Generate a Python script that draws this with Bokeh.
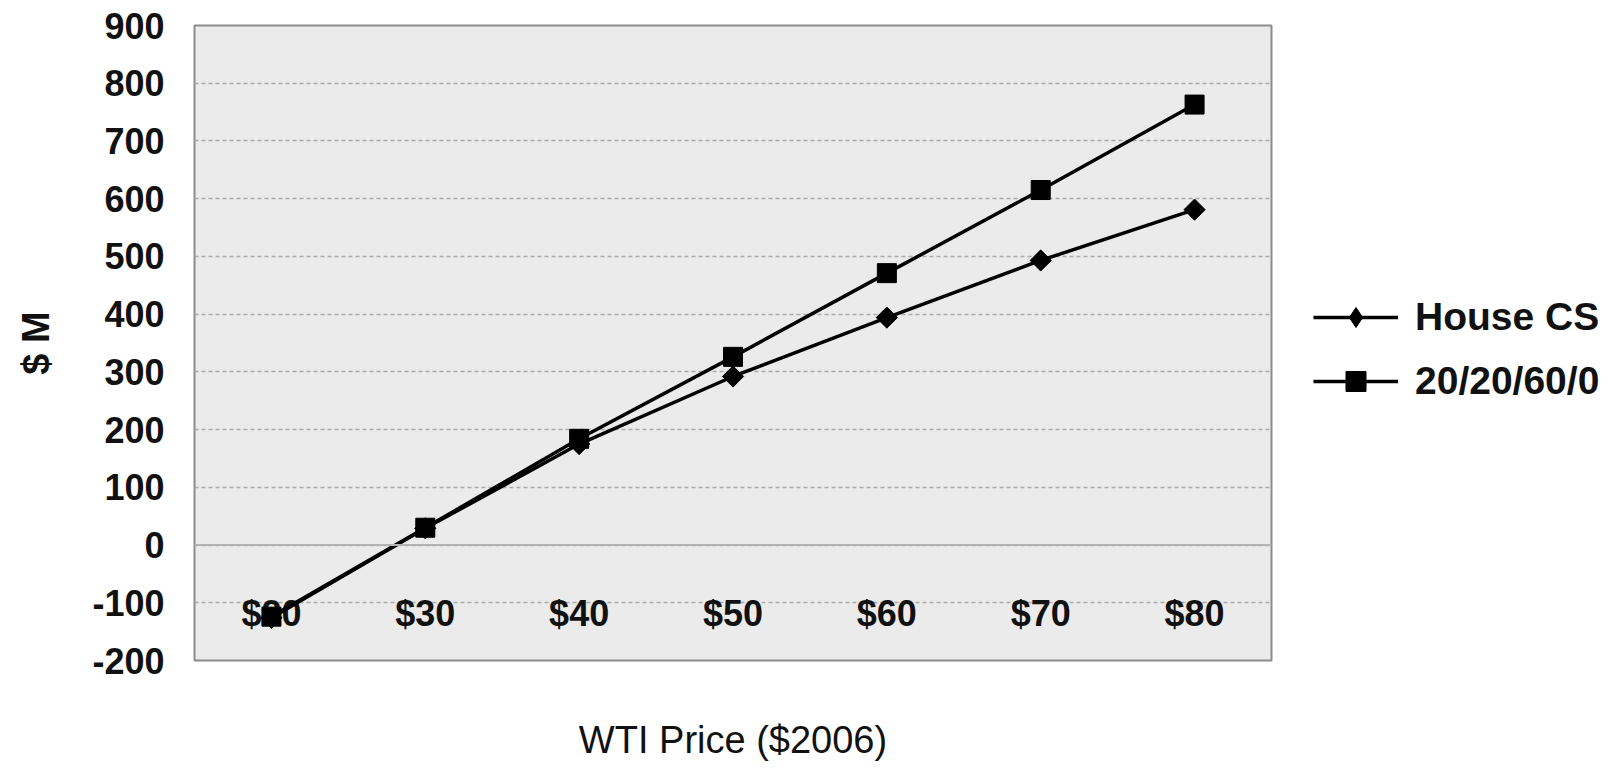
from math import pi

from bokeh.core.properties import value
from bokeh.embed import file_html
from bokeh.models import FactorRange, FixedTicker, Legend, LegendItem, Range1d, Span
from bokeh.plotting import figure
from bokeh.resources import INLINE

# WTI oil price scenarios ($2006) and the resulting value in $ millions
prices = ["$20", "$30", "$40", "$50", "$60", "$70", "$80"]
house_cs = [-126, 29, 175, 292, 394, 493, 581]
split_20_20_60_0 = [-124, 30, 184, 326, 471, 615, 763]
y_ticks = [-200, -100, 0, 100, 200, 300, 400, 500, 600, 700, 800, 900]

FONT = "Liberation Sans"

p = figure(
    frame_width=1077,
    frame_height=635,
    x_range=FactorRange(*prices),
    y_range=Range1d(-200, 900),
    output_backend="svg",
    toolbar_location=None,
    min_border_left=194,
    min_border_top=25,
    min_border_right=10,
    min_border_bottom=113,
    border_fill_color="#ffffff",
)
p.background_fill_color = "#ebebeb"
p.outline_line_color = "#8c8c8c"
p.outline_line_width = 2

# value axis (plain hyphen for negative numbers)
p.yaxis.ticker = FixedTicker(ticks=y_ticks)
p.yaxis.major_label_overrides = {t: str(t) for t in y_ticks}
p.yaxis.axis_line_color = None
p.yaxis.major_tick_line_color = None
p.yaxis.minor_tick_line_color = None
p.yaxis.major_tick_out = 0
p.yaxis.major_label_standoff = 30
p.yaxis.major_label_text_font = FONT
p.yaxis.major_label_text_font_size = "36px"
p.yaxis.major_label_text_font_style = "bold"
p.yaxis.major_label_text_color = "#111111"
p.yaxis.axis_label = "$ M"
p.yaxis.axis_label_text_font = FONT
p.yaxis.axis_label_text_font_size = "38px"
p.yaxis.axis_label_text_font_style = "bold"
p.yaxis.axis_label_text_color = "#111111"
p.yaxis.axis_label_standoff = 32

# category axis: only its title is shown, labels sit inside the plot
p.xaxis.axis_line_color = None
p.xaxis.major_tick_line_color = None
p.xaxis.minor_tick_line_color = None
p.xaxis.major_label_text_font_size = "1px"
p.xaxis.major_label_text_color = None
p.xaxis.axis_label = "WTI Price ($2006)"
p.xaxis.axis_label_text_font = FONT
p.xaxis.axis_label_text_font_size = "38px"
p.xaxis.axis_label_text_font_style = "normal"
p.xaxis.axis_label_text_color = "#111111"
p.xaxis.axis_label_standoff = 52

p.xgrid.visible = False
p.ygrid.ticker = FixedTicker(ticks=y_ticks)
p.ygrid.grid_line_color = "#aaaaaa"
p.ygrid.grid_line_dash = "4 3"
p.ygrid.grid_line_width = 1.5

# horizontal axis line at zero
p.add_layout(Span(location=0, dimension="width", line_color="#b4b4b4", line_width=2))

# category labels placed just under the zero line
label_y = -118
p.text(
    x=prices,
    y=[label_y] * len(prices),
    text=prices,
    text_align="center",
    text_baseline="middle",
    text_font=value(FONT),
    text_font_size="36px",
    text_font_style="bold",
    text_color="#111111",
)

l_house = p.line(prices, house_cs, line_color="black", line_width=3.5)
s_house = p.scatter(prices, house_cs, marker="square", angle=pi / 4, size=15,
                    fill_color="black", line_color="black", line_width=1)
# narrow diamond sitting inside each turned square; it gives the legend key its shape
k_house = p.scatter(prices, house_cs, marker="diamond", size=13,
                    fill_color="black", line_color="black", line_width=1)
l_split = p.line(prices, split_20_20_60_0, line_color="black", line_width=3.5)
s_split = p.scatter(prices, split_20_20_60_0, marker="square", size=19,
                    fill_color="black", line_color="black", line_width=1)

legend = Legend(
    items=[
        LegendItem(label="House CS", renderers=[l_house, k_house]),
        LegendItem(label="20/20/60/0", renderers=[l_split, s_split]),
    ],
    location=(42, 254),
    orientation="vertical",
    glyph_width=85,
    glyph_height=50,
    label_height=50,
    spacing=14,
    label_standoff=17,
    padding=0,
    margin=0,
    border_line_color=None,
    background_fill_alpha=0,
    label_text_font=FONT,
    label_text_font_size="39px",
    label_text_font_style="bold",
    label_text_color="#111111",
    label_text_baseline="middle",
)
p.add_layout(legend, "right")

open("out.html", "w").write(file_html(p, INLINE))
